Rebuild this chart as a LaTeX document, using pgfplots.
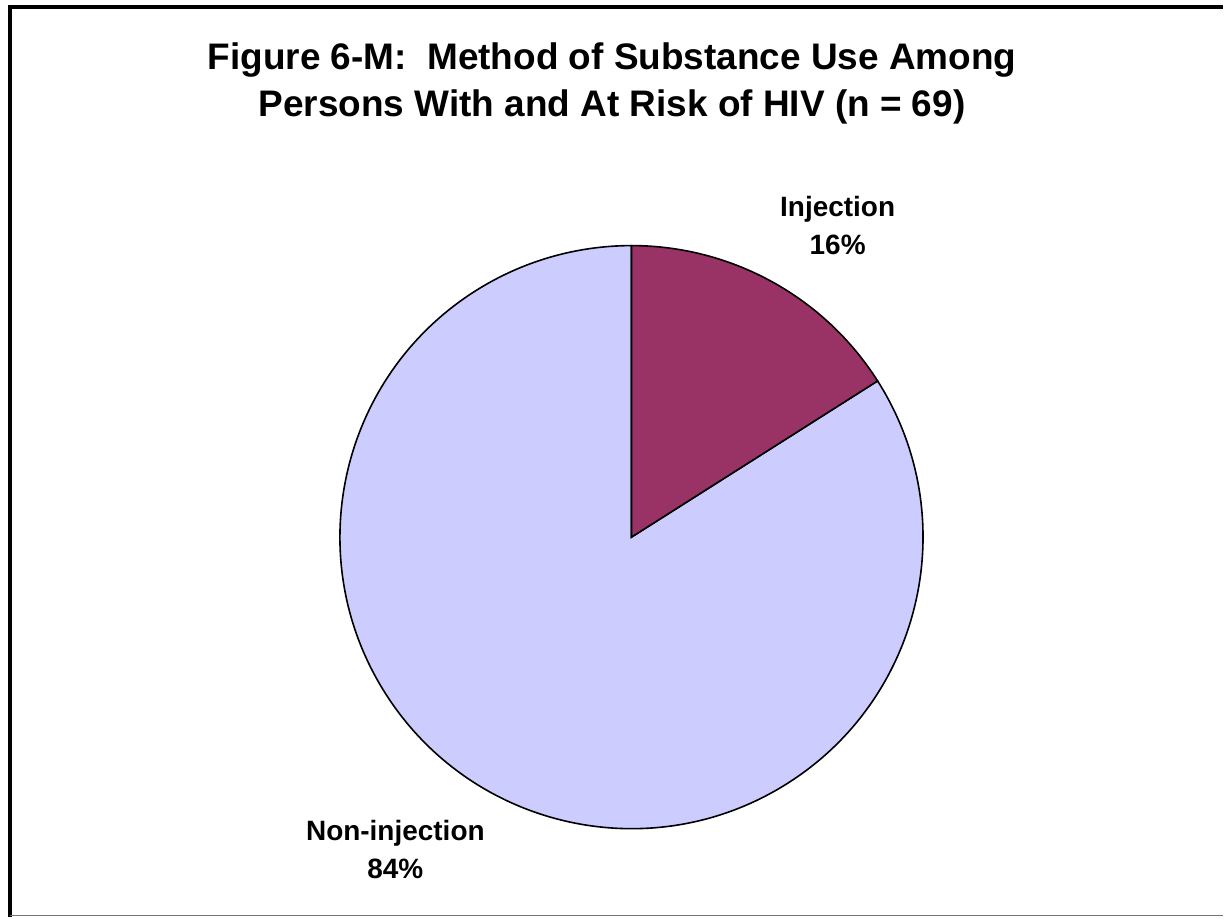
\documentclass[border=0pt]{standalone}
\usepackage{pgfplots}
\usepackage{pgfplotstable}
\pgfplotsset{compat=1.18}
\usepackage{fontspec}
\setmainfont{Liberation Sans}
\definecolor{injcol}{HTML}{993366}
\definecolor{noncol}{HTML}{CCCCFF}
\pgfplotstableread{
label value
Injection 16
Non-injection 84
}\piedata
\begin{document}
\begin{tikzpicture}
\pgfplotstablegetelem{0}{value}\of\piedata
\pgfmathtruncatemacro{\vinj}{\pgfplotsretval}
\pgfplotstablegetelem{1}{value}\of\piedata
\pgfmathtruncatemacro{\vnon}{\pgfplotsretval}
\pgfmathsetmacro{\aend}{90-3.6*\vinj}
\pgfmathsetmacro{\bend}{\aend-3.6*\vnon}
\begin{axis}[
  scale only axis,
  width=612.5bp, height=459bp,
  xmin=0, xmax=1225, ymin=0, ymax=918,
  y dir=reverse,
  hide axis, clip=false,
]
\path (axis cs:0,0) rectangle (axis cs:1225,918);
% frame
\draw[line width=2bp] (axis cs:10,918) -- (axis cs:10,7) -- (axis cs:1225,7);
\draw[line width=0.6bp, black!55] (axis cs:10,917.3) -- (axis cs:1225,917.3);
% pie
\filldraw[fill=noncol, draw=black, line width=0.8bp] (axis cs:632.5,538) -- ++(\aend:146bp) arc[start angle=\aend, end angle=\bend, radius=146bp] -- cycle;
\filldraw[fill=injcol, draw=black, line width=0.8bp] (axis cs:632.5,538) -- ++(90:146bp) arc[start angle=90, end angle=\aend, radius=146bp] -- cycle;
% title
\node[anchor=base, font=\fontsize{18.5bp}{20bp}\selectfont\bfseries] at (axis cs:613,70) {Figure 6-M:\ \ Method of Substance Use Among};
\node[anchor=base, font=\fontsize{18.5bp}{20bp}\selectfont\bfseries] at (axis cs:613,117) {Persons With and At Risk of HIV (n = 69)};
% labels
\node[anchor=base, font=\fontsize{14bp}{16bp}\selectfont\bfseries] at (axis cs:839,217) {Injection};
\node[anchor=base, font=\fontsize{14bp}{16bp}\selectfont\bfseries] at (axis cs:839,255) {\vinj\%};
\node[anchor=base, font=\fontsize{14bp}{16bp}\selectfont\bfseries] at (axis cs:396,842) {Non-injection};
\node[anchor=base, font=\fontsize{14bp}{16bp}\selectfont\bfseries] at (axis cs:396,880) {\vnon\%};
\end{axis}
\end{tikzpicture}
\end{document}
